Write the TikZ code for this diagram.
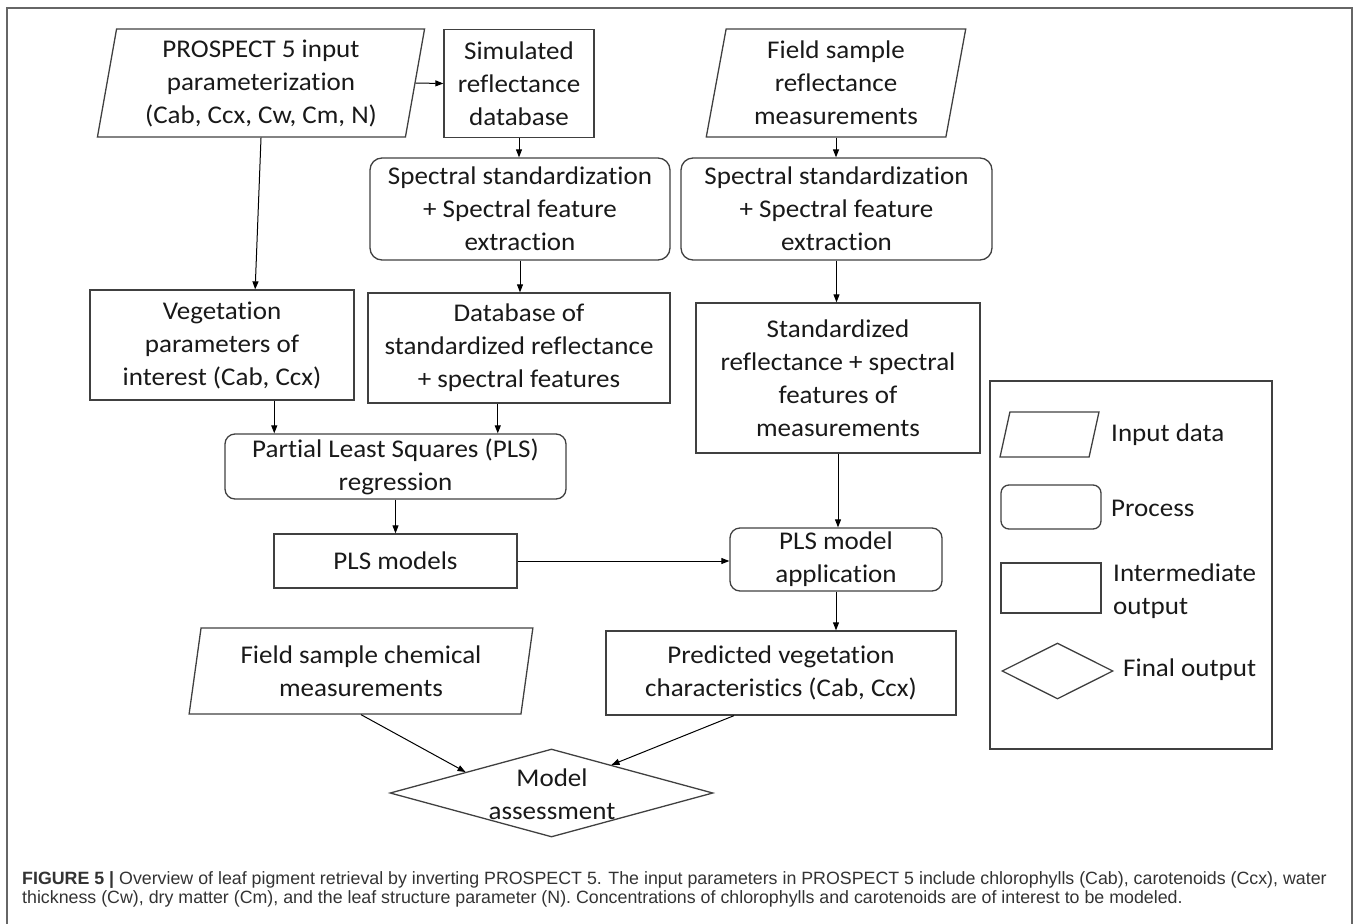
\documentclass[tikz,border=0pt]{standalone}
\usepackage{fontspec}
\setmainfont[FakeStretch=1.06, Ligatures=NoCommon]{Carlito}
\newfontfamily\capfont{Liberation Sans}
\usetikzlibrary{shapes.geometric,arrows.meta,calc}
\begin{document}
\begin{tikzpicture}[x=1pt,y=-1pt,
  every node/.style={font=\fontsize{25.5}{33}\selectfont, text=black!90, inner sep=0pt},
  box/.style={draw=black!75, line width=1.3pt, align=center},
  rbox/.style={box, rounded corners=12pt},
  para/.style={box, trapezium, trapezium left angle=80, trapezium right angle=100, trapezium stretches=true},
  dia/.style={draw=black!75, line width=1.3pt, diamond},
  arr/.style={draw=black, line width=1pt, -{Triangle[length=8pt,width=6pt]}},
  captext/.style={anchor=base west, font=\capfont\fontsize{17.8}{19.5}\selectfont, text=black!80}
]
\useasboundingbox (0,0) rectangle (1358,924);
\draw[black!60, line width=1.5pt] (7,924) -- (7,8) -- (1352,8) -- (1352,924);

% main flow
\node[para, minimum width=328pt, minimum height=108pt] (pros) at (261,83) {PROSPECT 5 input\\parameterization\\(Cab, Ccx, Cw, Cm, N)};
\node[box, minimum width=150pt, minimum height=108pt] (sim) at (519,83.5) {Simulated\\reflectance\\database};
\node[para, minimum width=260pt, minimum height=108pt] (field) at (836,83) {Field sample\\reflectance\\measurements};
\node[rbox, minimum width=300pt, minimum height=102pt] (spec1) at (520,209) {Spectral standardization\\+ Spectral feature\\extraction};
\node[rbox, minimum width=311pt, minimum height=102pt] (spec2) at (836.5,209) {Spectral standardization\\+ Spectral feature\\extraction};
\node[box, minimum width=264pt, minimum height=110pt] (veg) at (222,345) {Vegetation\\parameters of\\interest (Cab, Ccx)};
\node[box, minimum width=302pt, minimum height=110pt] (db) at (519,348) {Database of\\standardized reflectance\\+ spectral features};
\node[box, minimum width=284pt, minimum height=150pt] (std) at (838,378) {Standardized\\reflectance + spectral\\features of\\measurements};
\node[rbox, rounded corners=10pt, minimum width=341pt, minimum height=65pt] (plsr) at (395.5,466.5) {Partial Least Squares (PLS)\\regression};
\node[box, minimum width=243pt, minimum height=54pt] (plsm) at (395.5,561) {PLS models};
\node[rbox, rounded corners=10pt, minimum width=212pt, minimum height=63pt] (app) at (836,559.5) {PLS model\\application};
\node[box, minimum width=350pt, minimum height=84pt] (pred) at (781,673) {Predicted vegetation\\characteristics (Cab, Ccx)};
\node[para, minimum width=344pt, minimum height=86pt] (chem) at (361,671) {Field sample chemical\\measurements};
\node[dia, minimum width=323pt, minimum height=88pt] (assess) at (551.5,793) {};
\node[align=center] (assesst) at (552,794) {Model\\assessment};

% legend
\node[draw=black!75, line width=1.3pt, minimum width=282pt, minimum height=368pt] (legend) at (1131,565) {};
\node[para, minimum width=99pt, minimum height=45pt] (lgin) at (1049.5,434.5) {\phantom{M}};
\node[rbox, rounded corners=8pt, minimum width=100pt, minimum height=44pt] (lgpr) at (1051,507) {};
\node[box, minimum width=100pt, minimum height=50pt] (lgim) at (1051,588) {};
\node[dia, minimum width=111pt, minimum height=56pt] (lgfin) at (1057.5,671) {};
\node[anchor=west] (lgint) at (1111,435) {Input data};
\node[anchor=west] (lgprt) at (1111,508) {Process};
\node[anchor=west, align=left] (lgimt) at (1113,591) {Intermediate\\output};
\node[anchor=west] (lgfint) at (1123,670) {Final output};

% connectors
\draw[arr] (pros.east) -- (sim.west);
\draw[arr] (sim.south) -- (sim.south |- spec1.north);
\draw[arr] (field.south) -- (field.south |- spec2.north);
\draw[arr] (pros.south) -- ($(veg.north west)!0.625!(veg.north east)$);
\draw[arr] (spec1.south) -- (spec1.south |- db.north);
\draw[arr] ($(veg.south west)!0.697!(veg.south east)$) coordinate (v1) -- (v1 |- plsr.north);
\draw[arr] ($(db.south west)!0.43!(db.south east)$) coordinate (d1) -- (d1 |- plsr.north);
\draw[arr] (plsr.south) -- (plsr.south |- plsm.north);
\draw[arr] (plsm.east) -- (plsm.east -| app.west);
\draw[arr] (spec2.south) -- (spec2.south |- std.north);
\draw[arr] (std.south) -- (std.south |- app.north);
\draw[arr] (app.south) -- (app.south |- pred.north);
\draw[arr] (chem.south) -- ($(assess.west)!0.47!(assess.north)$);
\draw[arr] ($(pred.south west)!0.366!(pred.south east)$) -- ($(assess.north)!0.37!(assess.east)$);

% caption
\node[captext] (cap1) at (22,884) {\textbf{FIGURE 5 |} Overview of leaf pigment retrieval by inverting PROSPECT 5. The input parameters in PROSPECT 5 include chlorophylls (Cab), carotenoids (Ccx), water};
\node[captext] (cap2) at (22,903) {thickness (Cw), dry matter (Cm), and the leaf structure parameter (N). Concentrations of chlorophylls and carotenoids are of interest to be modeled.};
\end{tikzpicture}
\end{document}
